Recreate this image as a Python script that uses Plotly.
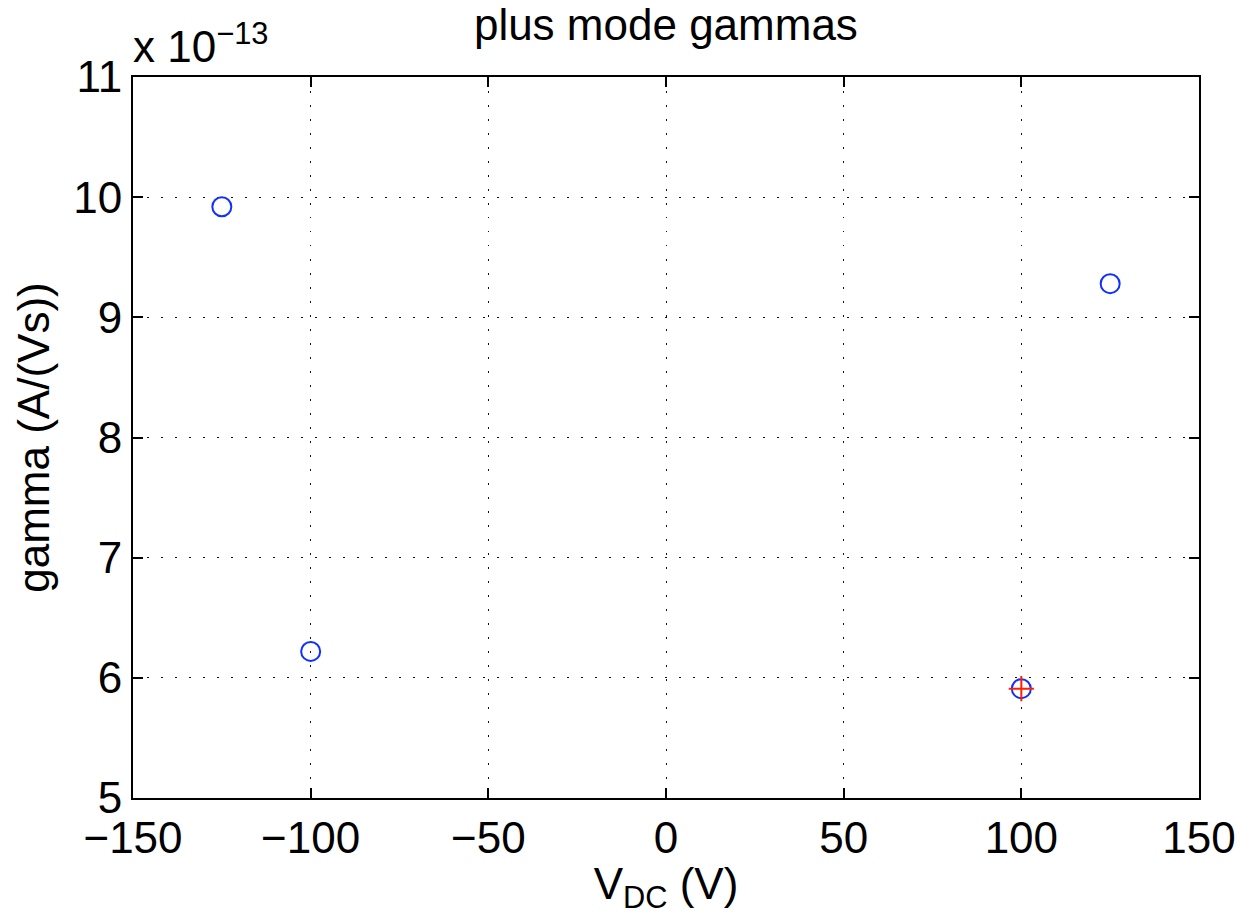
import plotly.graph_objects as go

# Data (gamma in A/(Vs))
vdc = [-125, -100, 100, 125]
gamma = [9.92e-13, 6.22e-13, 5.91e-13, 9.28e-13]
vdc_fit = [100]
gamma_fit = [5.91e-13]
scale = 1e-13

x_ticks = [-150, -100, -50, 0, 50, 100, 150]
y_ticks = [5, 6, 7, 8, 9, 10, 11]

FONT = "Liberation Sans, Arial, Helvetica, sans-serif"
FS = 44

fig = go.Figure()
fig.add_trace(go.Scatter(
    x=vdc, y=[g / scale for g in gamma], mode="markers",
    marker=dict(symbol="circle-open", size=19, color="#1030ff",
                line=dict(width=2, color="#1030ff")),
    showlegend=False))
fig.add_trace(go.Scatter(
    x=vdc_fit, y=[g / scale for g in gamma_fit], mode="markers",
    marker=dict(symbol="cross-thin-open", size=18, color="#ff2000",
                line=dict(width=2, color="#ff2000")),
    showlegend=False))

axis_common = dict(
    showline=True, linecolor="black", linewidth=2, mirror="ticks",
    ticks="inside", ticklen=10, tickwidth=1.5, tickcolor="black",
    showgrid=True, gridcolor="#111", gridwidth=1.2, griddash="1.5px,12.5px",
    zeroline=False, tickfont=dict(family=FONT, size=FS, color="black"),
)

fig.update_xaxes(range=[-150, 150], tickvals=x_ticks,
                 ticktext=[str(v).replace("-", "\u2212") for v in x_ticks],
                 title=dict(text="V<sub>DC</sub> (V)", font=dict(family=FONT, size=FS, color="black"),
                            standoff=0),
                 **axis_common)
fig.update_yaxes(range=[5, 11], tickvals=y_ticks,
                 ticktext=[str(v) for v in y_ticks],
                 title=dict(text="gamma (A/(Vs))", font=dict(family=FONT, size=FS, color="black"),
                            standoff=10),
                 **axis_common)

fig.add_annotation(xref="paper", yref="paper", x=0, y=1, xanchor="left", yanchor="bottom",
                   yshift=4, xshift=-2, showarrow=False,
                   text="x 10<sup>\u221213</sup>",
                   font=dict(family=FONT, size=FS, color="black"))

fig.update_layout(
    width=1247, height=915,
    margin=dict(l=133, r=48, t=77, b=117),
    paper_bgcolor="white", plot_bgcolor="white",
    title=dict(text="plus mode gammas", x=0.534, xanchor="center", y=0.99, yanchor="top",
               font=dict(family=FONT, size=FS, color="black")),
)

fig.write_html("out.html")
